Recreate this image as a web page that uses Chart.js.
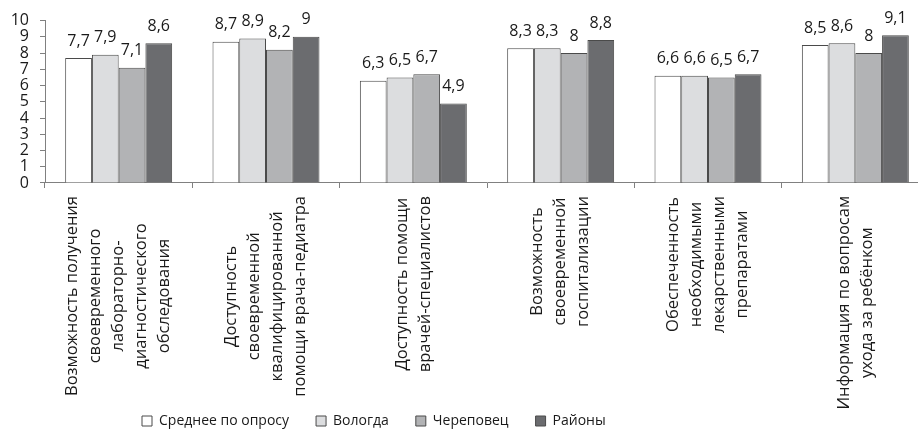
<!DOCTYPE html>
<html>
<head>
<meta charset="utf-8">
<script src="https://cdn.jsdelivr.net/npm/chart.js@4.4.0/dist/chart.umd.min.js"></script>
<style>
  html, body { margin: 0; padding: 0; background: #fff; overflow: hidden; }
  canvas { display: block; }
</style>
</head>
<body>
<canvas id="myChart" width="929" height="433"></canvas>
<script>
// categories, one array of lines per group
const categories = [
  ["Возможность получения", "своевременного", "лабораторно-", "диагностического", "обследования"],
  ["Доступность", "своевременной", "квалифицированной", "помощи врача-педиатра"],
  ["Доступность помощи", "врачей-специалистов"],
  ["Возможность", "своевременной", "госпитализации"],
  ["Обеспеченность", "необходимыми", "лекарственными", "препаратами"],
  ["Информация по вопросам", "ухода за ребёнком"]
];
const seriesNames = ["Среднее по опросу", "Вологда", "Череповец", "Районы"];
const avgValues = [7.7, 8.7, 6.3, 8.3, 6.6, 8.5];
const vologdaValues = [7.9, 8.9, 6.5, 8.3, 6.6, 8.6];
const cherepovetsValues = [7.1, 8.2, 6.7, 8, 6.5, 8];
const districtValues = [8.6, 9, 4.9, 8.8, 6.7, 9.1];
const yMin = 0, yMax = 10, yStep = 1;

const fills = ["#ffffff", "#dcdddf", "#b2b3b5", "#6b6c6f"];
const FONT = "'Open Sans', 'Noto Sans', sans-serif";

Chart.defaults.font.family = FONT;
Chart.defaults.color = "#1a1a1a";

// category labels (centered lines, rotated) + value labels
const drawLabels = {
  id: "drawLabels",
  afterLayout(chart) {
    // legend sits lower and to the left, like in the picture
    const lg = chart.legend;
    lg.left = 115;
    lg.right = 929;
    lg.top = 387;
  },
  afterDraw(chart) {
    const ctx = chart.ctx;
    const xs = chart.scales.x;
    ctx.save();
    ctx.fillStyle = "#1a1a1a";
    ctx.textAlign = "center";
    ctx.textBaseline = "middle";
    ctx.font = "16.5px " + FONT;
    categories.forEach((lines, i) => {
      const x = xs.getPixelForValue(i);
      const w = Math.max(...lines.map(l => ctx.measureText(l).width));
      ctx.save();
      ctx.translate(x, xs.top + 13 + w / 2);
      ctx.rotate(-Math.PI / 2);
      lines.forEach((l, j) => {
        ctx.fillText(l, 0, (j - (lines.length - 1) / 2) * 23);
      });
      ctx.restore();
    });
    ctx.font = "16px " + FONT;
    chart.data.datasets.forEach((ds, di) => {
      chart.getDatasetMeta(di).data.forEach((bar, k) => {
        ctx.fillText(String(ds.data[k]).replace(".", ","), bar.x, bar.y - 17);
      });
    });
    ctx.restore();
  }
};

const data = {
  labels: categories.map(c => c.join(" ")),
  datasets: [avgValues, vologdaValues, cherepovetsValues, districtValues].map((vals, i) => ({
    label: seriesNames[i],
    data: vals,
    backgroundColor: fills[i],
    borderColor: "#4a4a4a",
    borderWidth: 1,
    categoryPercentage: 0.726,
    barPercentage: 1
  }))
};

const config = {
  type: "bar",
  data,
  options: {
    responsive: false,
    animation: false,
    devicePixelRatio: 1,
    layout: { padding: { top: 20, right: 0, bottom: 0, left: 0 } },
    plugins: {
      tooltip: { enabled: false },
      legend: {
        position: "bottom",
        align: "start",
        labels: {
          boxWidth: 10,
          boxHeight: 10,
          padding: 27,
          color: "#1a1a1a",
          font: { size: 14 }
        }
      }
    },
    scales: {
      x: {
        ticks: { display: false },
        grid: { drawOnChartArea: false, drawTicks: true, tickLength: 5, color: "#808080", offset: true },
        border: { color: "#808080", width: 1 },
        afterFit(scale) { scale.height = 199; }
      },
      y: {
        min: yMin,
        max: yMax,
        ticks: { stepSize: yStep, autoSkip: false, padding: 11, color: "#1a1a1a", font: { size: 16 } },
        grid: { drawOnChartArea: false, drawTicks: true, tickLength: 5, color: "#808080" },
        border: { color: "#808080", width: 1 },
        afterFit(scale) { scale.width = 45; }
      }
    }
  },
  plugins: [drawLabels]
};

const myChart = new Chart(document.getElementById("myChart"), config);
</script>
</body>
</html>
